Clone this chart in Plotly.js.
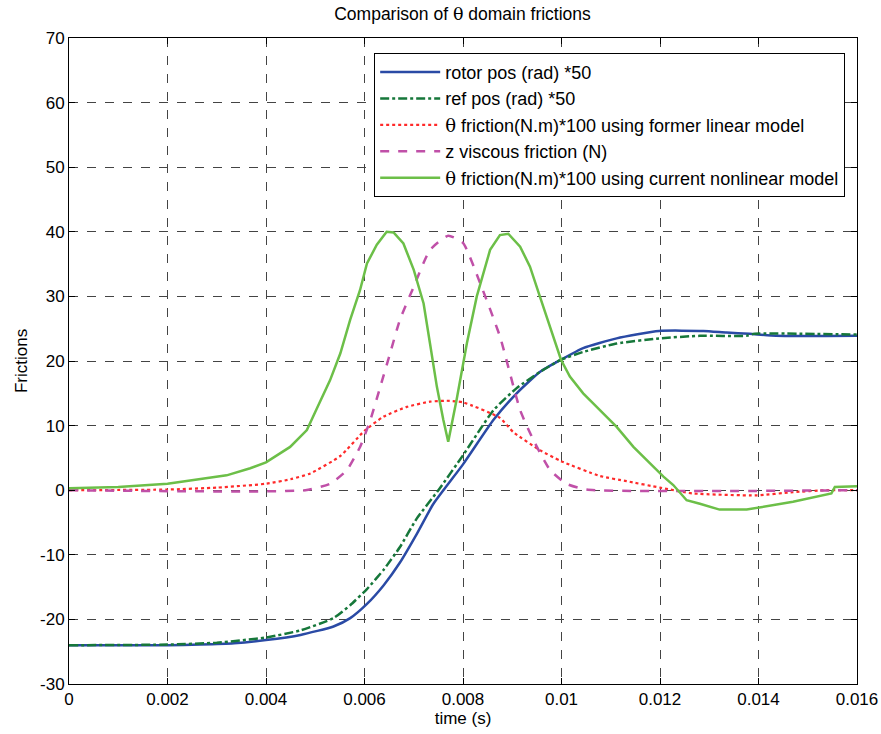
<!DOCTYPE html>
<html><head><meta charset="utf-8">
<script src="https://cdn.plot.ly/plotly-3.0.1.min.js"></script>
<style>html,body{margin:0;padding:0;background:#fff}#chart{width:881px;height:734px}</style>
</head><body><div id="chart"></div>
<script>
// rotor pos (rad) *50
const rotorT = [0, 0.002, 0.00267, 0.00335, 0.004, 0.0047, 0.00537, 0.00571, 0.00605, 0.00639, 0.00672, 0.00706, 0.0074, 0.008, 0.00862, 0.00909, 0.00956, 0.00999, 0.01044, 0.01112, 0.01198, 0.01288, 0.01335, 0.01382, 0.01436, 0.016];
const rotorV = [-24, -24, -23.9, -23.7, -23.2, -22.4, -21.1, -19.8, -17.6, -14.7, -11.2, -6.8, -2.1, 4.0, 10.9, 15, 18.3, 20.2, 22, 23.5, 24.65, 24.65, 24.4, 24.2, 23.9, 23.9];
// ref pos (rad) *50
const refT = [0, 0.002, 0.003, 0.004, 0.0047, 0.00537, 0.00571, 0.00605, 0.00639, 0.00672, 0.00706, 0.0075, 0.008, 0.00862, 0.00909, 0.00956, 0.00999, 0.01044, 0.01112, 0.01198, 0.01281, 0.01376, 0.0139, 0.016];
const refV = [-24, -23.9, -23.6, -22.8, -21.7, -19.8, -17.8, -15.3, -12.3, -8.8, -4.4, 0, 5.4, 12.4, 15.8, 18.3, 20.2, 21.4, 22.7, 23.5, 23.9, 23.9, 24.2, 24.1];
// θ friction (N.m)*100 using former linear model
const linT = [0, 0.002, 0.003, 0.004, 0.0045, 0.0049, 0.00551, 0.006, 0.00639, 0.00686, 0.00733, 0.00767, 0.008, 0.00875, 0.00902, 0.00956, 0.00999, 0.01078, 0.01132, 0.012, 0.01267, 0.01396, 0.0147, 0.01538, 0.016];
const linV = [0, 0.1, 0.4, 1, 1.7, 2.6, 5.3, 9.2, 11.4, 12.9, 13.7, 13.85, 13.6, 11.2, 9, 6.2, 4.5, 2.2, 1.4, 0.4, -0.5, -0.8, -0.3, 0, 0];
// z viscous friction (N)
const zT = [0, 0.0048, 0.0053, 0.00564, 0.00591, 0.00612, 0.00632, 0.00652, 0.00672, 0.007, 0.00733, 0.0077, 0.008, 0.00835, 0.00875, 0.00916, 0.00943, 0.00977, 0.0101, 0.01051, 0.016];
const zV = [0, 0, 1, 3.1, 6.7, 10.9, 16, 21.2, 26.4, 31.5, 37.2, 39.4, 38.3, 32, 23.8, 12.4, 7.75, 3.1, 1, 0.1, 0];
// θ friction (N.m)*100 using current nonlinear model
const nlT = [0, 0.001, 0.002, 0.0032, 0.00368, 0.004, 0.00449, 0.00483, 0.00503, 0.0053, 0.00551, 0.00571, 0.00591, 0.00605, 0.00625, 0.00645, 0.00659, 0.00679, 0.007, 0.0072, 0.00733, 0.00747, 0.0076, 0.0077, 0.00787, 0.00808, 0.00828, 0.00855, 0.00875, 0.00892, 0.00916, 0.00936, 0.00956, 0.00977, 0.00999, 0.01017, 0.01044, 0.01078, 0.01112, 0.01146, 0.0118, 0.01207, 0.01227, 0.01241, 0.01254, 0.01281, 0.01321, 0.01376, 0.0147, 0.01548, 0.01555, 0.016];
const nlV = [0.3, 0.5, 1, 2.3, 3.4, 4.3, 6.7, 9.3, 12.6, 17, 21.2, 26.4, 31, 35.1, 38, 40, 39.9, 38.2, 34.1, 28.9, 22.7, 16, 10.9, 7.5, 14, 22.8, 30, 37.2, 39.5, 39.7, 37.7, 34.6, 30, 25.3, 20.2, 17.6, 15, 12.4, 9.8, 6.7, 4.1, 2.1, 0.8, -0.5, -1.55, -2.1, -3, -3, -1.8, -0.5, 0.5, 0.6];

const xTickVals = [0, 0.002, 0.004, 0.006, 0.008, 0.01, 0.012, 0.014, 0.016];
const xTickText = ['0', '0.002', '0.004', '0.006', '0.008', '0.01', '0.012', '0.014', '0.016'];
const yTickVals = [-30, -20, -10, 0, 10, 20, 30, 40, 50, 60, 70];
const yTickText = ['-30', '-20', '-10', '0', '10', '20', '30', '40', '50', '60', '70'];

const TH = '<span style="font-family:DejaVu Serif">θ</span>';
const traces = [
  {x: rotorT, y: rotorV, name: 'rotor pos (rad) *50', mode: 'lines', line: {color: '#2a4aa5', width: 2.5, shape: 'spline', smoothing: 0.5}},
  {x: refT, y: refV, name: 'ref pos (rad) *50', mode: 'lines', line: {color: '#16773a', width: 2.5, dash: 'dashdot', shape: 'spline', smoothing: 0.5}},
  {x: linT, y: linV, name: TH + ' friction(N.m)*100 using former linear model', mode: 'lines', line: {color: '#ff2a2a', width: 2.2, dash: 'dot', shape: 'spline', smoothing: 0.5}},
  {x: zT, y: zV, name: 'z viscous friction (N)', mode: 'lines', line: {color: '#c050a8', width: 2.5, dash: 'dash', shape: 'spline', smoothing: 0.5}},
  {x: nlT, y: nlV, name: TH + ' friction(N.m)*100 using current nonlinear model', mode: 'lines', line: {color: '#6cbf48', width: 2.5}}
];

const FONT = 'Liberation Sans, Arial, sans-serif';
const axisCommon = {
  showline: true, linecolor: '#000', linewidth: 1, mirror: 'ticks',
  ticks: 'inside', ticklen: 6, tickcolor: '#000',
  showgrid: true, gridcolor: '#444', griddash: 'dash', gridwidth: 1,
  zeroline: false, tickmode: 'array',
  tickfont: {family: FONT, size: 17, color: '#000'}
};

const layout = {
  width: 881, height: 734,
  margin: {l: 69, r: 24, t: 38, b: 50},
  paper_bgcolor: '#fff', plot_bgcolor: '#fff',
  title: {text: 'Comparison of ' + TH + ' domain frictions', font: {family: FONT, size: 17.5, color: '#000'}, x: 0.525, xanchor: 'center', y: 0.99, yanchor: 'top'},
  xaxis: Object.assign({}, axisCommon, {range: [0, 0.016], tickvals: xTickVals, ticktext: xTickText,
    title: {text: 'time (s)', font: {family: FONT, size: 17, color: '#000'}, standoff: 2}}),
  yaxis: Object.assign({}, axisCommon, {range: [-30, 70], tickvals: yTickVals, ticktext: yTickText,
    title: {text: 'Frictions', font: {family: FONT, size: 17, color: '#000'}, standoff: 8}}),
  showlegend: true,
  legend: {x: 0.985, xanchor: 'right', y: 0.977, yanchor: 'top', bgcolor: '#fff', bordercolor: '#000', borderwidth: 1,
    font: {family: FONT, size: 18, color: '#000'}, tracegroupgap: 0, itemwidth: 60}
};

Plotly.newPlot('chart', traces, layout, {displayModeBar: false});
</script></body></html>
